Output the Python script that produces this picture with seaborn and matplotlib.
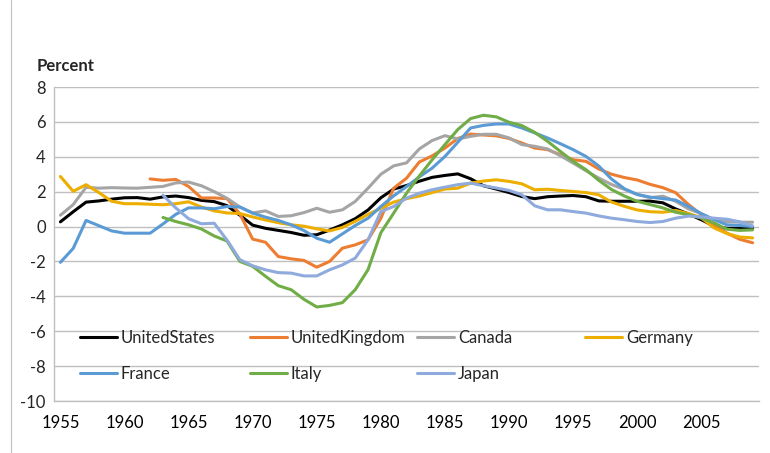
import numpy as np
import pandas as pd
import matplotlib
matplotlib.use("Agg")
import matplotlib.pyplot as plt
from matplotlib.lines import Line2D
from matplotlib.legend import Legend
import seaborn as sns

years = list(range(1955, 2010))

united_states = [0.27, 0.85, 1.4, 1.47, 1.57, 1.65, 1.66, 1.57, 1.7, 1.75,
                 1.66, 1.5, 1.43, 1.2, 0.65, 0.08, -0.1, -0.22, -0.34, -0.5,
                 -0.47, -0.2, 0.1, 0.45, 0.95, 1.65, 2.15, 2.35, 2.6, 2.82,
                 2.93, 3.02, 2.74, 2.34, 2.15, 1.95, 1.72, 1.6, 1.71, 1.75,
                 1.78, 1.71, 1.47, 1.45, 1.45, 1.45, 1.46, 1.36, 1.01, 0.72,
                 0.39, 0.02, -0.1, -0.1, -0.07]
united_kingdom = [None] * 7 + [2.73, 2.65, 2.7, 2.3, 1.64, 1.64, 1.6, 0.72,
                  -0.72, -0.9, -1.72, -1.85, -1.94, -2.33, -2.0, -1.24, -1.05, -0.76,
                  0.48, 2.2, 2.77, 3.7, 4.05, 4.5, 5.05, 5.3, 5.25, 5.2,
                  5.05, 4.79, 4.5, 4.41, 4.12, 3.83, 3.74, 3.3, 3.0, 2.81,
                  2.67, 2.42, 2.23, 1.94, 1.26, 0.68, 0.1, -0.38, -0.73, -0.93]
canada = [0.65, 1.26, 2.25, 2.2, 2.23, 2.21, 2.2, 2.25, 2.3, 2.5,
          2.55, 2.34, 2.0, 1.62, 1.12, 0.78, 0.9, 0.58, 0.62, 0.8,
          1.05, 0.82, 0.96, 1.44, 2.2, 3.0, 3.48, 3.65, 4.45, 4.93,
          5.21, 5.02, 5.17, 5.29, 5.29, 5.08, 4.7, 4.6, 4.45, 4.06,
          3.64, 3.2, 2.78, 2.41, 2.13, 1.84, 1.65, 1.74, 1.45, 1.01,
          0.74, 0.39, 0.29, 0.25, 0.25]
germany = [2.87, 2.02, 2.4, 1.95, 1.45, 1.31, 1.31, 1.28, 1.25, 1.31,
           1.42, 1.12, 0.9, 0.78, 0.75, 0.55, 0.38, 0.22, 0.1, 0.02,
           -0.13, -0.25, -0.05, 0.3, 0.7, 1.05, 1.4, 1.6, 1.75, 1.95,
           2.15, 2.2, 2.49, 2.61, 2.68, 2.59, 2.45, 2.11, 2.14, 2.07,
           2.01, 1.95, 1.82, 1.4, 1.16, 0.95, 0.85, 0.82, 0.92, 0.75,
           0.5, -0.08, -0.4, -0.6, -0.65]
france = [-2.05, -1.25, 0.35, 0.05, -0.25, -0.38, -0.38, -0.38, 0.15, 0.7,
          1.07, 1.07, 1.02, 1.15, 1.12, 0.77, 0.54, 0.35, 0.1, -0.23,
          -0.67, -0.9, -0.42, 0.06, 0.48, 1.15, 1.76, 2.29, 2.85, 3.35,
          4.02, 4.83, 5.65, 5.8, 5.88, 5.88, 5.65, 5.37, 5.08, 4.75,
          4.41, 4.02, 3.47, 2.72, 2.17, 1.84, 1.69, 1.6, 1.52, 1.16,
          0.74, 0.39, 0.1, 0.06, 0.0]
italy = [None] * 8 + [0.52, 0.29, 0.1, -0.14, -0.54, -0.83, -2.0,
         -2.28, -2.85, -3.39, -3.62, -4.17, -4.61, -4.52, -4.36, -3.62, -2.47,
         -0.35, 0.77, 1.91, 2.9, 3.83, 4.7, 5.56, 6.19, 6.38, 6.29,
         5.98, 5.79, 5.4, 4.89, 4.31, 3.74, 3.26, 2.65, 2.12, 1.75,
         1.45, 1.26, 1.07, 0.82, 0.68, 0.49, 0.2, -0.15, -0.22, -0.19]
japan = [None] * 8 + [1.8, 1.07, 0.45, 0.16, 0.19, -0.78, -1.9,
         -2.25, -2.48, -2.64, -2.67, -2.83, -2.83, -2.48, -2.2, -1.81, -0.76,
         0.86, 1.15, 1.63, 1.91, 2.11, 2.26, 2.4, 2.49, 2.34, 2.21,
         2.07, 1.82, 1.19, 0.96, 0.96, 0.86, 0.77, 0.61, 0.48, 0.39,
         0.29, 0.23, 0.29, 0.48, 0.6, 0.55, 0.48, 0.42, 0.27, 0.04]

countries = ["UnitedStates", "UnitedKingdom", "Canada", "Germany", "France", "Italy", "Japan"]
series = [united_states, united_kingdom, canada, germany, france, italy, japan]
colors = ["#000000", "#ED7D31", "#A5A5A5", "#EDAE00", "#5B9BD5", "#70AD47", "#8FAADC"]

x_labels = [1955, 1960, 1965, 1970, 1975, 1980, 1985, 1990, 1995, 2000, 2005]
y_ticks = [8, 6, 4, 2, 0, -2, -4, -6, -8, -10]

rows = []
for name, vals in zip(countries, series):
    for yr, v in zip(years, vals):
        if v is not None:
            rows.append({"year": yr, "value": v, "country": name})
df = pd.DataFrame(rows)

sns.set_style("white")
plt.rcParams["font.family"] = ["Lato", "DejaVu Sans"]
plt.rcParams["font.size"] = 12
plt.rcParams["font.weight"] = "normal"

FS = 12
W, H = 770, 453
fig = plt.figure(figsize=(W / 100, H / 100), dpi=100)
ax = fig.add_axes([54 / W, 1 - 401 / H, (759 - 54) / W, (401 - 87) / H])

sns.lineplot(data=df, x="year", y="value", hue="country", hue_order=countries,
             palette=colors, linewidth=2.2, legend=False, ax=ax, sort=True,
             errorbar=None)

grid_c = "#BFBFBF"
ax.set_xlim(1954.5, 2009.5)
ax.set_ylim(-10, 8)
ax.set_yticks(y_ticks)
ax.set_yticklabels([str(t) for t in y_ticks])
ax.yaxis.grid(True, color=grid_c, linewidth=1.0)
ax.xaxis.grid(False)
ax.set_axisbelow(True)
ax.set_xticks(x_labels)
ax.set_xticklabels([str(t) for t in x_labels])
ax.set_xticks([1954.5 + 5 * k for k in range(12)], minor=True)
ax.tick_params(axis="x", which="major", length=0, pad=10, labelsize=FS, colors="black")
ax.tick_params(axis="x", which="minor", length=5, width=1, color=grid_c, direction="out")
ax.tick_params(axis="y", which="major", length=4, width=1, color=grid_c, pad=2, labelsize=FS)
ax.set_xlabel("")
ax.set_ylabel("")
for s in ["top", "right"]:
    ax.spines[s].set_visible(False)
for s in ["left", "bottom"]:
    ax.spines[s].set_color(grid_c)
    ax.spines[s].set_linewidth(1.0)

fig.add_artist(Line2D([11 / W, 11 / W], [0, 1], color="#BFBFBF", linewidth=0.8))

lines = ax.get_lines()[:len(countries)]
handles = {c: l for c, l in zip(countries, lines)}
columns = [["UnitedStates", "France"], ["UnitedKingdom", "Italy"],
           ["Canada", "Japan"], ["Germany"]]
col_x = [80, 250, 417, 585]
for cols, cx in zip(columns, col_x):
    hs = [Line2D([], [], color=handles[c].get_color(), linewidth=2.2) for c in cols]
    leg = Legend(ax, hs, cols, loc="upper left",
                 bbox_to_anchor=(cx / W, 1 - 330 / H), bbox_transform=fig.transFigure,
                 frameon=False, borderpad=0, borderaxespad=0, handlelength=2.2,
                 handletextpad=0.25, labelspacing=1.2,
                 prop={"family": ["Lato", "DejaVu Sans"], "weight": "normal", "size": FS})
    ax.add_artist(leg)

fig.text(37 / W, 1 - 66 / H, "Percent", fontsize=FS, fontweight="bold",
         ha="left", va="center")

fig.savefig("out.png", dpi=100)
